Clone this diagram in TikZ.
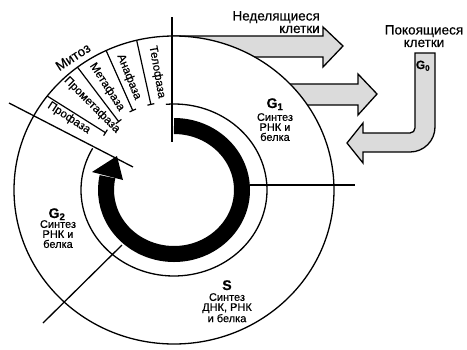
\documentclass[tikz,border=0pt]{standalone}
\usepackage{fontspec}
\setmainfont{Liberation Sans}[FakeBold=0.4]
\usetikzlibrary{arrows.meta}
\begin{document}
\begin{tikzpicture}[x=1pt,y=-1pt,
  thinline/.style={line width=1.3pt},
  bigarrow/.style={fill=black!14, draw=black, line width=1.3pt, line join=miter},
  phase/.style={font=\fontsize{11.5}{11.5}\selectfont, inner sep=0pt},
  tbar/.style={line width=1.2pt, -{Bar[width=7pt,line width=1.2pt]}},
  body/.style={font=\fontsize{11}{10}\selectfont, align=center, inner sep=0pt},
  gl/.style={font=\fontsize{14}{14}\selectfont\bfseries, inner sep=0pt},
  head/.style={font=\fontsize{13.5}{12.5}\selectfont, inner sep=0pt}
]
\useasboundingbox (0,0) rectangle (467,349);
\coordinate (C) at (174,190);
% big arrows behind the outer circle
\draw[bigarrow] (172,36) -- (323,36) -- (323,27) -- (343,46) -- (323,67) -- (323,57) -- (230,57) -- (172,50) -- cycle;
\draw[bigarrow] (270,84) -- (358,84) -- (358,74) -- (377,94) -- (358,115) -- (358,105) -- (270,105) -- cycle;
% outer circle
\draw[thinline, fill=white] (C) ellipse [x radius=160, y radius=154];
% G0 bent arrow
\draw[bigarrow] (415,53) -- (435,53) -- (435,127) arc[start angle=0, end angle=90, radius=25]
  -- (363,152) -- (363,163) -- (347,143) -- (363,123) -- (363,133) -- (410,133)
  arc[start angle=90, end angle=0, radius=5] -- cycle;
% black cycle arrow
\draw[line width=16pt] (C) ++(-90:68 and 64) arc[start angle=-90, end angle=192, x radius=68, y radius=64];
\fill (92,172) -- (117,156) -- (123,180) -- cycle;
% inner circle
\draw[thinline] (C) ++(-95:93 and 86) arc[start angle=-95, end angle=209, x radius=93, y radius=86];
% dividing lines
\draw[thinline] (172,17) -- (172,142);
\draw[thinline] (250,185) -- (355,185);
\draw[thinline] (9,103) -- (133,167);
\draw[thinline] (43,323) -- (122,245);
% mitosis phase lines
\draw[tbar] (C) ++(-142.4:160 and 154) -- (106,133);
\draw[tbar] (C) ++(-127.1:160 and 154) -- (119,122);
\draw[tbar] (C) ++(-115.1:160 and 154) -- (133,111);
\draw[tbar] (C) ++(-103.5:160 and 154) -- (151,105);
% phase labels
\node[phase, rotate=-33] (pro) at (69,118) {Профаза};
\node[phase, rotate=-45] (prometa) at (92,105) {Прометафаза};
\node[phase, rotate=-57] (meta) at (107,87) {Метафаза};
\node[phase, rotate=-68] (ana) at (129,77) {Анафаза};
\node[phase, rotate=-80] (telo) at (157,72) {Телофаза};
\node[font=\fontsize{13.5}{13.5}\selectfont, inner sep=0pt, rotate=33] (mitoz) at (73,57) {Митоз};
% headings
\node[head, align=right, anchor=north east] (nedel) at (320,11) {Неделящиеся\\клетки};
\node[head, align=center, anchor=north] (pokoy) at (424,25) {Покоящиеся\\клетки};
% phase names
\node[gl, anchor=base] (g1) at (275,108) {G\textsubscript{1}};
\node[body, anchor=north] (g1t) at (275,113) {Синтез\\РНК и\\белка};
\node[gl, anchor=base] (g2) at (57,218) {G\textsubscript{2}};
\node[body, anchor=north] (g2t) at (58,220) {Синтез\\РНК и\\белка};
\node[gl, anchor=base] (s) at (227,290) {S};
\node[body, anchor=north] (st) at (227,293) {Синтез\\ДНК, РНК\\и белка};
\node[gl, font=\fontsize{12}{12}\selectfont\bfseries, anchor=base] (g0) at (423,69) {G\textsubscript{0}};
\end{tikzpicture}
\end{document}
